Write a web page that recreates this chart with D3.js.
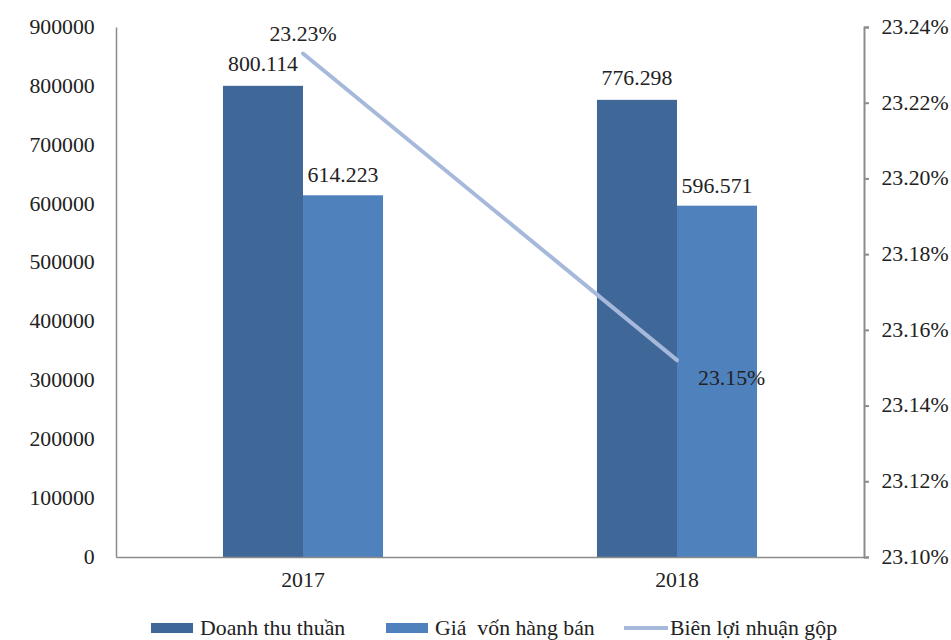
<!DOCTYPE html>
<html>
<head>
<meta charset="utf-8">
<script src="https://cdn.jsdelivr.net/npm/d3@7"></script>
<style>
  html, body { margin: 0; padding: 0; background: #fff; }
  svg { display: block; }
  svg text { font-family: "Liberation Serif", "Times New Roman", serif; fill: #222; }
</style>
</head>
<body>
<svg id="chart" width="951" height="640"></svg>
<script>
// Years on the category axis
const years = ["2017", "2018"];
// Net revenue and cost of goods sold (million VND)
const revenue = [800114, 776298];
const cogs = [614223, 596571];
// Gross profit margin (%)
const margin = [23.233, 23.152];
// Axis ticks
const leftTicks = [0, 100000, 200000, 300000, 400000, 500000, 600000, 700000, 800000, 900000];
const rightTicks = [23.10, 23.12, 23.14, 23.16, 23.18, 23.20, 23.22, 23.24];
// Legend entries
const seriesNames = ["Doanh thu thuần", "Giá  vốn hàng bán", "Biên lợi nhuận gộp"];

const colors = { revenue: "#3f6899", cogs: "#4f81bd", margin: "#a7b9db", axis: "#8c8c8c" };
const FONT = "'Liberation Serif', 'Times New Roman', serif";
const STRETCH = 1.09; // text is set slightly wide

const svg = d3.select("#chart");
const plot = { left: 116, right: 864, top: 27, bottom: 557 };

const x = d3.scaleBand().domain(years).range([plot.left, plot.right]).padding(0);
const y = d3.scaleLinear().domain([0, 900000]).range([plot.bottom, plot.top]);
const y2 = d3.scaleLinear().domain([23.10, 23.24]).range([plot.bottom, plot.top]);

const barW = x.bandwidth() * 0.214;
const center = d => x(d) + x.bandwidth() / 2;
const fmtVN = v => d3.format(",")(v).replace(/,/g, ".");

// Places a wide-set text label at (px, py)
function label(g, px, py, str, anchor, size) {
  return g.append("text")
    .attr("transform", `translate(${px},${py}) scale(${STRETCH},1)`)
    .attr("text-anchor", anchor)
    .style("font-family", FONT)
    .style("font-size", size + "px")
    .style("white-space", "pre")
    .text(str);
}

const rows = years.map((yr, i) => ({ yr, rev: revenue[i], cost: cogs[i], m: margin[i] }));

// Bars
svg.append("g").selectAll("rect").data(rows).join("rect")
  .attr("x", d => center(d.yr) - barW)
  .attr("y", d => y(d.rev))
  .attr("width", barW)
  .attr("height", d => y(0) - y(d.rev))
  .attr("fill", colors.revenue);

svg.append("g").selectAll("rect").data(rows).join("rect")
  .attr("x", d => center(d.yr))
  .attr("y", d => y(d.cost))
  .attr("width", barW)
  .attr("height", d => y(0) - y(d.cost))
  .attr("fill", colors.cogs);

// Bar value labels
const barLabels = svg.append("g");
rows.forEach(d => {
  label(barLabels, center(d.yr) - barW / 2, y(d.rev) - 15, fmtVN(d.rev), "middle", 20);
  label(barLabels, center(d.yr) + barW / 2, y(d.cost) - 13, fmtVN(d.cost), "middle", 20);
});

function styleTicks(axisG, pad) {
  axisG.selectAll(".tick text")
    .attr("transform", `scale(${STRETCH},1)`)
    .style("font-family", FONT)
    .style("font-size", "20px")
    .attr("fill", "#222");
}

// Left axis (line only, labels without tick marks)
const leftAxis = svg.append("g")
  .attr("transform", `translate(${plot.left},0)`)
  .call(d3.axisLeft(y).tickValues(leftTicks).tickFormat(d3.format("d")).tickSize(0).tickPadding(19.5));
leftAxis.select(".domain").attr("stroke", colors.axis).attr("stroke-width", 1.5);
styleTicks(leftAxis);

// Right axis
const rightAxis = svg.append("g")
  .attr("transform", `translate(${plot.right},0)`)
  .call(d3.axisRight(y2).tickValues(rightTicks).tickFormat(d => d.toFixed(2) + "%")
    .tickSizeInner(5).tickSizeOuter(5).tickPadding(11));
rightAxis.select(".domain").attr("stroke", colors.axis).attr("stroke-width", 2);
rightAxis.selectAll(".tick line").attr("stroke", colors.axis).attr("stroke-width", 2);
styleTicks(rightAxis);

// Bottom axis
const bottomAxis = svg.append("g")
  .attr("transform", `translate(0,${plot.bottom})`)
  .call(d3.axisBottom(x).tickSize(0).tickPadding(16));
bottomAxis.select(".domain").attr("stroke", colors.axis).attr("stroke-width", 1.5);
styleTicks(bottomAxis);

// Margin line on the secondary axis
const line = d3.line().x(d => center(d.yr)).y(d => y2(d.m));
svg.append("path").datum(rows)
  .attr("d", line)
  .attr("fill", "none")
  .attr("stroke", colors.margin)
  .attr("stroke-width", 4)
  .attr("stroke-linecap", "round");

// Margin labels
const pct = v => d3.format(".2f")(v) + "%";
const lineLabels = svg.append("g");
label(lineLabels, center(rows[0].yr), y2(rows[0].m) - 13, pct(rows[0].m), "middle", 20);
label(lineLabels, center(rows[1].yr) + 21, y2(rows[1].m) + 25, pct(rows[1].m), "start", 20);

// Legend
const legend = svg.append("g").attr("transform", "translate(0,628)");
const legendItems = [
  { name: seriesNames[0], x: 151, type: "rect", color: colors.revenue },
  { name: seriesNames[1], x: 386, type: "rect", color: colors.cogs },
  { name: seriesNames[2], x: 624, type: "line", color: colors.margin }
];
legendItems.forEach(it => {
  if (it.type === "rect") {
    legend.append("rect").attr("x", it.x).attr("y", -5).attr("width", 42).attr("height", 10).attr("fill", it.color);
  } else {
    legend.append("line").attr("x1", it.x).attr("x2", it.x + 44).attr("y1", 0).attr("y2", 0)
      .attr("stroke", it.color).attr("stroke-width", 4);
  }
  label(legend, it.x + (it.type === "rect" ? 49 : 46), 7, it.name, "start", 20);
});
</script>
</body>
</html>
